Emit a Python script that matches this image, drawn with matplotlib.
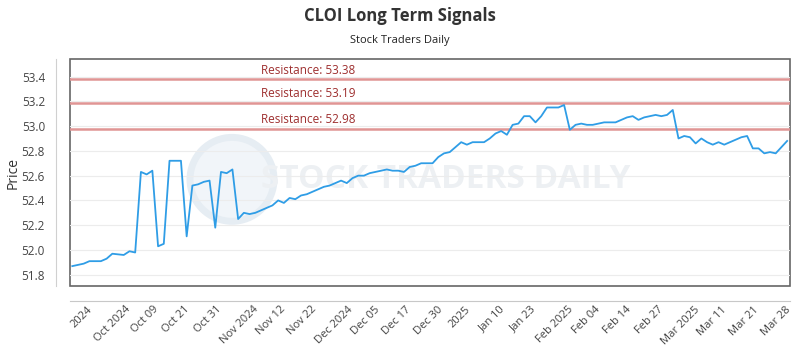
import numpy as np
import matplotlib
matplotlib.use("Agg")
import matplotlib.pyplot as plt
from matplotlib.patches import Ellipse

# closing prices
prices = [
    51.87, 51.88, 51.89, 51.91, 51.91, 51.91, 51.93, 51.97, 51.965, 51.96,
    51.99, 51.98, 52.63, 52.61, 52.64, 52.03, 52.05, 52.72, 52.72, 52.72,
    52.11, 52.52, 52.53, 52.55, 52.56, 52.18, 52.63, 52.62, 52.65, 52.25,
    52.30, 52.29, 52.30, 52.32, 52.34, 52.36, 52.40, 52.38, 52.42, 52.41,
    52.44, 52.45, 52.47, 52.49, 52.51, 52.52, 52.54, 52.56, 52.54, 52.58,
    52.60, 52.60, 52.62, 52.63, 52.64, 52.65, 52.64, 52.64, 52.63, 52.67,
    52.68, 52.70, 52.70, 52.70, 52.75, 52.78, 52.79, 52.83, 52.87, 52.85,
    52.87, 52.87, 52.87, 52.90, 52.94, 52.96, 52.93, 53.01, 53.02, 53.08,
    53.08, 53.03, 53.08, 53.15, 53.15, 53.15, 53.17, 52.97, 53.01, 53.02,
    53.01, 53.01, 53.02, 53.03, 53.03, 53.03, 53.05, 53.07, 53.08, 53.05,
    53.07, 53.08, 53.09, 53.08, 53.09, 53.13, 52.90, 52.92, 52.91, 52.86,
    52.90, 52.87, 52.85, 52.87, 52.85, 52.87, 52.89, 52.91, 52.92, 52.82,
    52.82, 52.78, 52.79, 52.78, 52.83, 52.88,
]

resistance = [53.38, 53.19, 52.98]

tick_labels = [
    "2024", "Oct 2024", "Oct 09", "Oct 21", "Oct 31", "Nov 2024", "Nov 12",
    "Nov 22", "Dec 2024", "Dec 05", "Dec 17", "Dec 30", "2025", "Jan 10",
    "Jan 23", "Feb 2025", "Feb 04", "Feb 14", "Feb 27", "Mar 2025", "Mar 11",
    "Mar 21", "Mar 28",
]

plt.rcParams['font.family'] = ['Open Sans', 'DejaVu Sans']

fig = plt.figure(figsize=(8, 3.5), dpi=100, facecolor='white')
ax = fig.add_axes([0.0875, 0.183, 0.9, 0.648])

x = np.arange(len(prices))

# watermark (axes is ~720 x 227 px, so scale ellipse to look round)
ax.add_patch(Ellipse((0.225, 0.47), 84 / 720, 84 / 227, transform=ax.transAxes,
                     facecolor='#f1f5f9', edgecolor='#e6edf3', lw=5, zorder=0))
ax.text(0.522, 0.47, "STOCK TRADERS DAILY", transform=ax.transAxes,
        ha='center', va='center', fontsize=24, color='#edf0f3',
        fontweight='bold', fontstretch='condensed', zorder=0)

for r in resistance:
    ax.axhline(r, color='#e09594', lw=1.8, zorder=2)
    ax.text(33, r + 0.02, f"Resistance: {r:.2f}", color='#9e2f2f',
            fontsize=8.5, va='bottom', ha='left', zorder=3)

ax.plot(x, prices, color='#2f9de6', lw=1.3, zorder=4)

ax.set_xlim(-0.4, 125.5)
ax.set_ylim(51.71, 53.54)
ax.set_yticks(np.arange(51.8, 53.41, 0.2))
ax.yaxis.set_major_formatter(matplotlib.ticker.FormatStrFormatter('%.1f'))
ax.grid(axis='y', color='#ececec', lw=0.8)
ax.set_axisbelow(True)

ax.set_xticks(np.linspace(1.6, 123.0, len(tick_labels)))
ax.set_xticklabels(tick_labels)
ax.tick_params(axis='x', length=0, pad=2, labelsize=8, labelcolor='#444',
               labelrotation=45)
for lbl in ax.get_xticklabels():
    lbl.set_ha('right')
    lbl.set_rotation_mode('anchor')
ax.tick_params(axis='y', length=0, pad=8, labelsize=8.5, labelcolor='#444')

# box around plot area plus offset axis lines
ax.patch.set_edgecolor('#666666')
ax.patch.set_linewidth(1.2)
for s in ['top', 'right']:
    ax.spines[s].set_visible(False)
ax.spines['left'].set_position(('outward', 10))
ax.spines['bottom'].set_position(('outward', 11))
ax.spines['left'].set_color('#d0d0d0')
ax.spines['bottom'].set_color('#c8c8c8')

ax.set_ylabel("Price", fontsize=10, color='#333')
ax.yaxis.set_label_coords(-0.068, 0.5)

fig.text(0.5, 0.955, "CLOI Long Term Signals", ha='center', va='center',
         fontsize=12, fontweight='bold', color='#333')
fig.text(0.5, 0.885, "Stock Traders Daily", ha='center', va='center',
         fontsize=8, color='#222')

fig.savefig("out.png", dpi=100, facecolor='white')
